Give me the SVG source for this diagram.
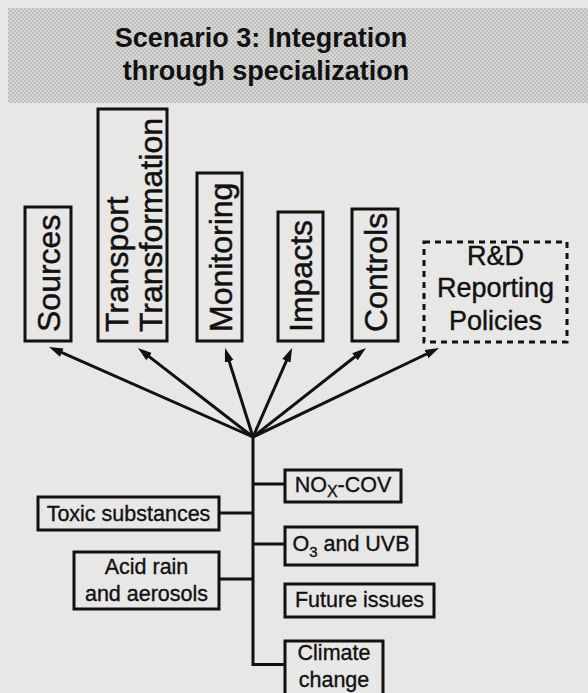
<svg xmlns="http://www.w3.org/2000/svg" width="588" height="693" viewBox="0 0 588 693">
  <defs>
    <pattern id="halftone" width="4" height="4" patternUnits="userSpaceOnUse">
      <rect width="4" height="4" fill="#d8d8d6"/>
      <rect x="0" y="0" width="2" height="2" fill="#bebebc"/>
      <rect x="2" y="2" width="2" height="2" fill="#bebebc"/>
    </pattern>
    <marker id="arrow" viewBox="0 0 14 10" refX="6" refY="5" markerWidth="14" markerHeight="10" markerUnits="userSpaceOnUse" orient="auto">
      <path d="M0,0.5 L14,5 L0,9.5 z" fill="#111"/>
    </marker>
  </defs>
  <style>
    .box { fill: none; stroke: #111; stroke-width: 3; }
    .dashed { fill: none; stroke: #111; stroke-width: 3; stroke-dasharray: 6 5; }
    .link { fill: none; stroke: #111; stroke-width: 3; }
    .big { font-family: "Liberation Sans", Arial, sans-serif; font-size: 32px; fill: #111; stroke: #111; stroke-width: 0.5; }
    .mid { font-family: "Liberation Sans", Arial, sans-serif; font-size: 27px; fill: #111; stroke: #111; stroke-width: 0.4; text-anchor: middle; }
    .small { font-family: "Liberation Sans", Arial, sans-serif; font-size: 21.5px; fill: #111; stroke: #111; stroke-width: 0.35; text-anchor: middle; }
    .title { font-family: "Liberation Sans", Arial, sans-serif; font-size: 27px; font-weight: bold; fill: #111; text-anchor: middle; }
  </style>

  <!-- paper -->
  <rect width="588" height="693" fill="#e7e7e5"/>

  <!-- title band -->
  <g id="title">
    <rect x="8" y="8" width="580" height="95" fill="url(#halftone)"/>
    <text class="title" x="261" y="47">Scenario 3: Integration</text>
    <text class="title" x="266" y="80">through specialization</text>
  </g>

  <!-- upper fields (rotated labels) -->
  <g id="sources">
    <rect class="box" x="25" y="207" width="46" height="134"/>
    <text class="big" transform="translate(59.5,332) rotate(-90)">Sources</text>
  </g>
  <g id="transport">
    <rect class="box" x="98" y="109" width="69" height="232"/>
    <text class="big" transform="translate(128,332) rotate(-90)">Transport</text>
    <text class="big" transform="translate(162,332) rotate(-90)">Transformation</text>
  </g>
  <g id="monitoring">
    <rect class="box" x="197" y="173" width="45" height="168"/>
    <text class="big" transform="translate(232,332) rotate(-90)">Monitoring</text>
  </g>
  <g id="impacts">
    <rect class="box" x="278" y="212" width="45" height="129"/>
    <text class="big" transform="translate(312,332) rotate(-90)">Impacts</text>
  </g>
  <g id="controls">
    <rect class="box" x="352" y="209" width="46" height="132"/>
    <text class="big" transform="translate(387,332) rotate(-90)">Controls</text>
  </g>
  <g id="rd">
    <rect class="dashed" x="424" y="242" width="143" height="100"/>
    <text class="mid" x="495.5" y="265">R&amp;D</text>
    <text class="mid" x="495.5" y="297">Reporting</text>
    <text class="mid" x="495.5" y="330">Policies</text>
  </g>

  <!-- issue boxes on the left of the trunk -->
  <g id="toxic">
    <rect class="box" x="38" y="497" width="181" height="33"/>
    <text class="small" x="128.5" y="521">Toxic substances</text>
  </g>
  <g id="acid">
    <rect class="box" x="74" y="552" width="145" height="57"/>
    <text class="small" x="146.5" y="574">Acid rain</text>
    <text class="small" x="146.5" y="601">and aerosols</text>
  </g>

  <!-- issue boxes on the right of the trunk -->
  <g id="nox">
    <rect class="box" x="285" y="470" width="116" height="32"/>
    <text class="small" x="343" y="492">NO<tspan font-size="16" dy="5">X</tspan><tspan dy="-5">-COV</tspan></text>
  </g>
  <g id="ozone">
    <rect class="box" x="285" y="527" width="132" height="38"/>
    <text class="small" x="351" y="551">O<tspan font-size="15" dy="6">3</tspan><tspan dy="-6"> and UVB</tspan></text>
  </g>
  <g id="future">
    <rect class="box" x="285" y="584" width="149" height="33"/>
    <text class="small" x="359.5" y="607">Future issues</text>
  </g>
  <g id="climate">
    <rect class="box" x="285" y="641" width="98" height="60"/>
    <text class="small" x="334" y="660">Climate</text>
    <text class="small" x="334" y="687">change</text>
  </g>

  <!-- connectors -->
  <g id="connectors">
    <line class="link" x1="253" y1="437" x2="56.3" y2="350.2" marker-end="url(#arrow)"/>
    <line class="link" x1="253" y1="437" x2="144.3" y2="352.9" marker-end="url(#arrow)"/>
    <line class="link" x1="253" y1="437" x2="227.4" y2="355.6" marker-end="url(#arrow)"/>
    <line class="link" x1="253" y1="437" x2="288.8" y2="355.3" marker-end="url(#arrow)"/>
    <line class="link" x1="253" y1="437" x2="359.7" y2="353" marker-end="url(#arrow)"/>
    <line class="link" x1="253" y1="437" x2="431.8" y2="351.5" marker-end="url(#arrow)"/>
    <polyline class="link" points="253,436 253,664.5 285,664.5"/>
    <line class="link" x1="253" y1="484" x2="285" y2="484"/>
    <line class="link" x1="253" y1="544" x2="285" y2="544"/>
    <line class="link" x1="219" y1="513" x2="253" y2="513"/>
    <line class="link" x1="219" y1="579" x2="253" y2="579"/>
  </g>
</svg>
